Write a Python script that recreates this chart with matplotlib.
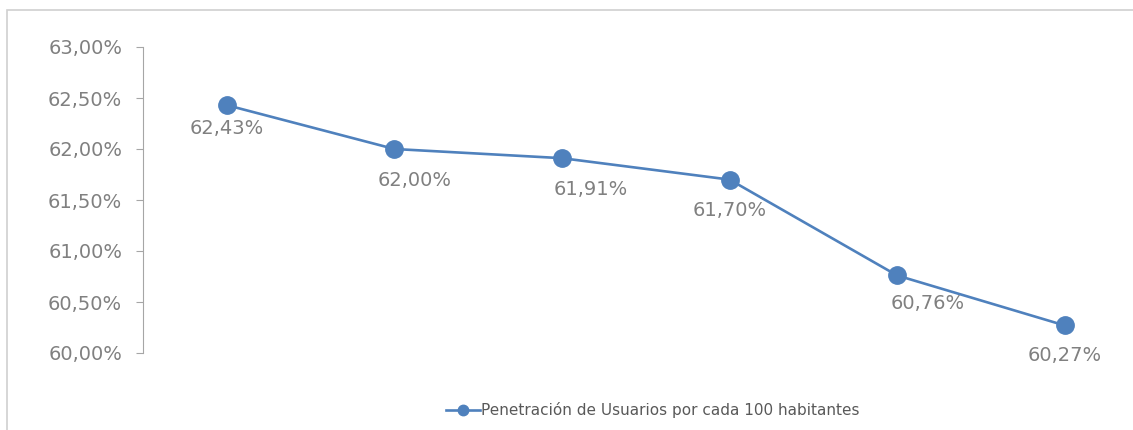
import matplotlib
matplotlib.use("Agg")
from matplotlib import pyplot as plt
from matplotlib.patches import Rectangle
from matplotlib.ticker import FuncFormatter

# data
periods = ["P1", "P2", "P3", "P4", "P5", "P6"]
penetracion = [62.43, 62.00, 61.91, 61.70, 60.76, 60.27]
serie_label = "Penetración de Usuarios por cada 100 habitantes"
y_ticks = [60.0, 60.5, 61.0, 61.5, 62.0, 62.5, 63.0]

# label offsets (px) as Excel placed them
label_dx = [0, 20, 29, 0, 30, 0]
label_dy = [-23, -32, -31, -31, -28, -30]

BLUE = "#4f81bd"
GRAY = "#808080"
plt.rcParams["font.family"] = ["DejaVu Sans"]


def pct(v, _pos=None):
    return f"{v:.2f}".replace(".", ",") + "%"


def main():
    fig = plt.figure(figsize=(11.33, 4.30), dpi=100)

    # outer chart frame (cropped on the right/bottom)
    fig.patches.append(Rectangle((7 / 1133, -0.1), 1.2, 1.1 - 10 / 430,
                                 transform=fig.transFigure, fill=False,
                                 edgecolor="#d0d0d0", linewidth=1.2))

    ax = fig.add_axes([143 / 1133, 77 / 430, 1005.6 / 1133, 306 / 430])
    x = list(range(len(periods)))
    line, = ax.plot(x, penetracion, color=BLUE, linewidth=1.9, marker="o",
                    markersize=12.5, clip_on=False, label=serie_label)

    for xi, v, dx, dy in zip(x, penetracion, label_dx, label_dy):
        ax.annotate(pct(v), (xi, v), xytext=(dx * 0.72, dy * 0.72),
                    textcoords="offset points", ha="center", va="center",
                    fontsize=14, color=GRAY, annotation_clip=False)

    ax.set_xlim(-0.5, len(periods) - 0.5)
    ax.set_ylim(60, 63)
    ax.set_yticks(y_ticks)
    ax.yaxis.set_major_formatter(FuncFormatter(pct))
    ax.tick_params(axis="y", colors="#a6a6a6", labelcolor=GRAY,
                   labelsize=14, length=5, pad=10, direction="out")
    ax.set_xticks([])
    for side in ["top", "right", "bottom"]:
        ax.spines[side].set_visible(False)
    ax.spines["left"].set_color("#a6a6a6")
    ax.patch.set_alpha(0)

    fig.legend(handles=[line], loc="center", bbox_to_anchor=(653 / 1133, 1 - 410 / 430),
               frameon=False, fontsize=11, labelcolor="#595959",
               handlelength=2.2, handletextpad=0.1, markerscale=0.6)

    fig.savefig("out.png", dpi=100)


if __name__ == "__main__":
    main()
